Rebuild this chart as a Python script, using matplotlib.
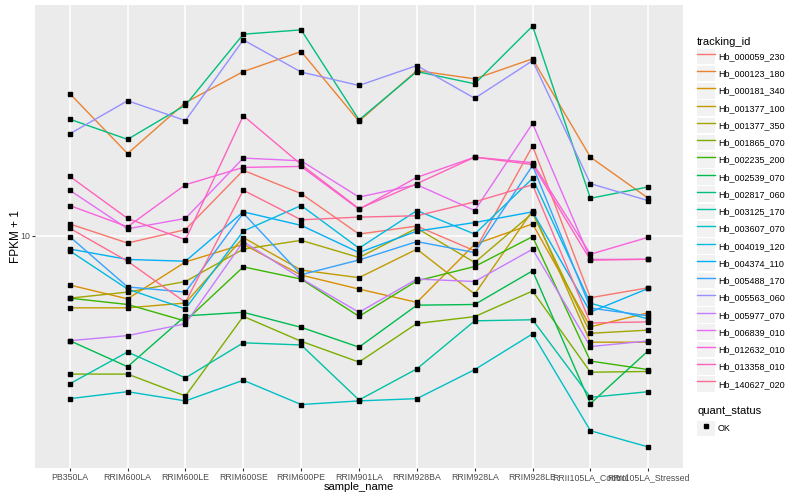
import numpy as np
import matplotlib.pyplot as plt
from matplotlib.patches import Rectangle
from matplotlib.lines import Line2D
from matplotlib.ticker import NullLocator

plt.rcParams['font.family'] = ['Liberation Sans', 'DejaVu Sans']

samples = ["PB350LA", "RRIM600LA", "RRIM600LE", "RRIM600SE", "RRIM600PE", "RRIM901LA",
           "RRIM928BA", "RRIM928LA", "RRIM928LE", "RRII105LA_Control", "RRII105LA_Stressed"]

# FPKM + 1, one list per gene, in sample order
hb_000059_230 = [10.8, 9.52, 10.4, 15.4, 13.2, 10.1, 10.65, 9.04, 18.1, 6.63, 7.08]
hb_000123_180 = [25.6, 17.2, 24.1, 29.6, 33.8, 21.3, 29.8, 28.2, 32.2, 16.8, 12.8]
hb_000181_340 = [7.21, 6.58, 8.40, 9.44, 7.70, 7.02, 6.43, 9.44, 10.8, 5.47, 6.00]
hb_001377_100 = [6.20, 6.20, 6.40, 9.87, 7.96, 7.57, 9.14, 6.79, 11.8, 4.94, 4.94]
hb_001377_350 = [6.61, 6.88, 7.38, 9.14, 9.69, 8.65, 10.5, 8.37, 11.6, 5.24, 5.35]
hb_001865_070 = [4.00, 4.00, 3.46, 5.86, 4.97, 4.33, 5.59, 5.85, 6.93, 4.05, 4.07]
hb_002235_200 = [6.61, 6.34, 5.68, 8.13, 7.50, 5.86, 7.41, 8.15, 9.93, 4.36, 4.12]
hb_002539_070 = [4.99, 4.20, 5.88, 6.02, 5.45, 4.78, 6.31, 6.34, 7.92, 3.29, 4.67]
hb_002817_060 = [21.6, 18.9, 23.7, 37.9, 39.0, 21.5, 29.6, 27.3, 40.0, 12.8, 13.8]
hb_003125_170 = [3.75, 4.63, 3.90, 4.92, 4.85, 3.37, 4.14, 5.69, 5.73, 3.43, 3.56]
hb_003607_070 = [3.40, 3.56, 3.35, 3.84, 3.27, 3.35, 3.40, 4.12, 5.22, 2.75, 2.47]
hb_004019_120 = [9.04, 7.02, 6.16, 10.3, 12.2, 9.20, 11.8, 10.1, 14.6, 6.39, 5.76]
hb_004374_110 = [9.15, 8.54, 8.44, 11.7, 10.7, 8.94, 10.3, 10.9, 11.7, 6.03, 7.05]
hb_005488_170 = [9.93, 7.12, 6.88, 11.6, 7.72, 8.51, 9.61, 8.94, 15.9, 6.19, 5.88]
hb_005563_060 = [19.6, 24.4, 21.4, 36.5, 29.5, 27.0, 30.8, 24.8, 31.8, 14.1, 12.6]
hb_005977_070 = [4.99, 5.16, 5.58, 9.61, 7.53, 6.02, 7.50, 7.38, 9.14, 4.80, 4.98]
hb_006839_010 = [13.5, 10.46, 11.2, 16.7, 16.4, 12.9, 14.0, 11.8, 21.0, 8.54, 8.55]
hb_012632_010 = [12.2, 10.6, 14.0, 15.7, 15.8, 11.9, 14.7, 16.8, 16.2, 8.84, 9.89]
hb_013358_010 = [14.8, 11.2, 9.73, 22.1, 16.0, 11.95, 14.1, 16.8, 16.0, 8.50, 8.55]
hb_140627_020 = [10.5, 8.44, 6.43, 13.5, 11.1, 11.3, 11.4, 12.5, 14.0, 5.61, 5.65]

ids = ["Hb_000059_230", "Hb_000123_180", "Hb_000181_340", "Hb_001377_100", "Hb_001377_350",
       "Hb_001865_070", "Hb_002235_200", "Hb_002539_070", "Hb_002817_060", "Hb_003125_170",
       "Hb_003607_070", "Hb_004019_120", "Hb_004374_110", "Hb_005488_170", "Hb_005563_060",
       "Hb_005977_070", "Hb_006839_010", "Hb_012632_010", "Hb_013358_010", "Hb_140627_020"]
values = [hb_000059_230, hb_000123_180, hb_000181_340, hb_001377_100, hb_001377_350,
          hb_001865_070, hb_002235_200, hb_002539_070, hb_002817_060, hb_003125_170,
          hb_003607_070, hb_004019_120, hb_004374_110, hb_005488_170, hb_005563_060,
          hb_005977_070, hb_006839_010, hb_012632_010, hb_013358_010, hb_140627_020]
colors = ["#F8766D", "#EA8331", "#D89000", "#C09B00", "#A3A500", "#7CAE00", "#39B600",
          "#00BB4E", "#00BF7D", "#00C1A3", "#00BFC4", "#00BAE0", "#00B0F6", "#35A2FF",
          "#9590FF", "#C77CFF", "#E76BF3", "#FA62DB", "#FF62BC", "#FF6C91"]

fig = plt.figure(figsize=(8, 5), dpi=100)
ax = fig.add_axes([35/800, 1-468/500, 648/800, 463/500])
ax.set_facecolor('#EBEBEB')

x = np.arange(len(samples))
for vals, col in zip(values, colors):
    ax.plot(x, vals, color=col, lw=1.0, zorder=2)
for vals in values:
    ax.plot(x, vals, 's', color='black', ms=3, zorder=3)

ax.set_yscale('log')
allv = np.concatenate([np.array(v) for v in values])
lo, hi = np.log10(allv.min()), np.log10(allv.max())
pad = 0.05*(hi-lo)
ax.set_ylim(10**(lo-pad), 10**(hi+pad))
ax.set_xlim(-0.6, len(samples)-0.4)
ax.set_yticks([10])
ax.set_yticklabels(['10'])
ax.yaxis.set_minor_locator(NullLocator())
ax.set_xticks(x)
ax.set_xticklabels(samples)
ax.grid(True, color='white', lw=1.1)
ax.set_axisbelow(True)
for s in ax.spines.values():
    s.set_visible(False)
ax.tick_params(length=2, width=0.8, color='#333333', labelcolor='#4D4D4D', labelsize=6.3, pad=1.5)
ax.set_xlabel('sample_name', fontsize=8, labelpad=0)
ax.set_ylabel('FPKM + 1', fontsize=8.5, labelpad=-1)

h1 = [(Rectangle((0, 0), 1, 1, fc='#F2F2F2', ec='none'), Line2D([], [], color=c, lw=1.0)) for c in colors]
fig.legend(h1, ids, loc='upper left', bbox_to_anchor=(697/800, 1-37/500), frameon=False,
           title='tracking_id', title_fontsize=8, fontsize=6.5, handlelength=2.0,
           handleheight=2.3, labelspacing=0.17, handletextpad=0.3, borderpad=0,
           borderaxespad=0, alignment='left')
h2 = [(Rectangle((0, 0), 1, 1, fc='#F2F2F2', ec='none'),
       Line2D([], [], marker='s', color='black', ls='none', ms=3))]
fig.legend(h2, ['OK'], loc='upper left', bbox_to_anchor=(697/800, 1-406/500), frameon=False,
           title='quant_status', title_fontsize=8, fontsize=6.5, handlelength=2.0,
           handleheight=2.3, handletextpad=0.3, borderpad=0, borderaxespad=0, alignment='left')

plt.savefig('out.png', dpi=100)
